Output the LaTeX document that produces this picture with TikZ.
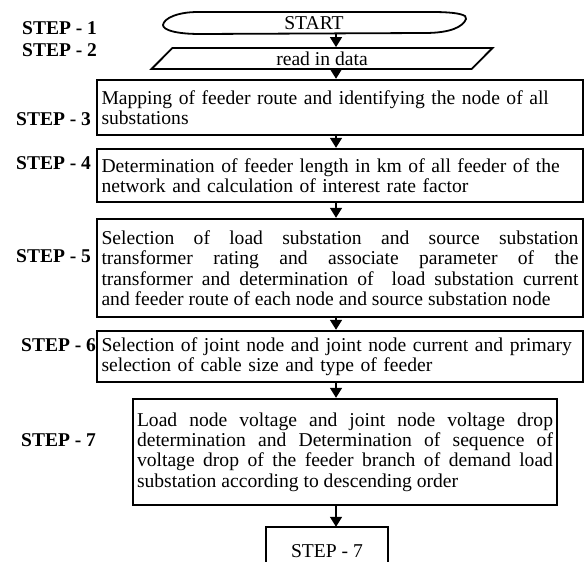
\documentclass[tikz,border=0pt]{standalone}
\usepackage{fontspec}
\setmainfont{Liberation Serif}
\usetikzlibrary{arrows.meta,shapes.geometric}
\hyphenpenalty=10000
\exhyphenpenalty=10000

\begin{document}
\begin{tikzpicture}[x=1pt,y=-1pt,
  every node/.style={font=\fontsize{19.6}{20.4}\selectfont},
  steplabel/.style={anchor=west,inner sep=0pt,font=\fontsize{19.5}{20}\selectfont\bfseries},
  procbox/.style={draw,line width=2.4pt,text width=477pt,inner xsep=4.5pt,inner ysep=0pt},
  narrowbox/.style={procbox,text width=416pt,inner xsep=4pt},
  flow/.style={line width=1.6pt,-{Triangle[width=12pt,length=10pt]}},
  termline/.style={line width=1.8pt},
]
% page frame
\fill[white] (0,0) rectangle (585,561);
\useasboundingbox (0,0) rectangle (585,561);
\clip (0,0) rectangle (585,561);

% common vertical axis of the flow arrows
\coordinate (ax) at (336,0);

% terminal
\node[minimum width=303pt,minimum height=22pt,inner sep=0pt] (start) at (314,23) {START};
\draw[termline] (198,12) -- (432,12)
  .. controls (458,12) and (468,15) .. (466,19)
  .. controls (463,27) and (450,33) .. (425,33)
  -- (200,34)
  .. controls (176,34) and (163,30) .. (163,25)
  .. controls (164,18) and (178,12) .. (198,12) -- cycle;

% input
\node[trapezium,trapezium left angle=37,trapezium right angle=143,
      trapezium stretches body,draw,line width=1.8pt,
      minimum width=341pt,minimum height=21pt,inner ysep=1pt] (read) at (322,58.5) {read in data};

% process steps
\node[procbox,align=left,minimum height=55pt] (s3) at (340,107.5)
  {Mapping of feeder route and identifying the node of all\\substations};
\node[procbox,align=left,minimum height=53pt] (s4) at (340,175.5)
  {Determination of feeder length in km of all feeder of the\\network and calculation of interest rate factor};
\node[procbox,align=justify,minimum height=98pt] (s5) at (340,268)
  {Selection of load substation and source substation\linebreak
   transformer rating and associate parameter of the\linebreak
   transformer and determination of\ \ load substation current\linebreak
   and feeder route of each node and source substation node};
\node[procbox,align=left,minimum height=51pt] (s6) at (340,356.5)
  {Selection of joint node and joint node current and primary\\selection of cable size and type of feeder};
\node[narrowbox,align=justify,minimum height=106pt] (s7) at (345,452)
  {Load node voltage and joint node voltage drop\linebreak
   determination and Determination of sequence of\linebreak
   voltage drop of the feeder branch of demand load\linebreak
   substation according to descending order};

% continuation box, open at the page edge
\node[minimum width=122pt,minimum height=48pt,inner sep=0pt] (s8) at (327,551) {STEP - 7};
\draw[line width=2pt] (s8.south west) -- (s8.north west) -- (s8.north east) -- (s8.south east);

% step labels
\node[steplabel] (lab1) at (22,28) {STEP - 1};
\node[steplabel] (lab2) at (22,50) {STEP - 2};
\node[steplabel] (lab3) at (16,119) {STEP - 3};
\node[steplabel] (lab4) at (16,163) {STEP - 4};
\node[steplabel] (lab5) at (16,256) {STEP - 5};
\node[steplabel] (lab6) at (21,345) {STEP - 6};
\node[steplabel] (lab7) at (21,440) {STEP - 7};

% flow arrows
\draw[flow] (start.south -| ax) -- (read.north -| ax);
\draw[flow] (read.south -| ax) -- (s3.north -| ax);
\draw[flow] (s3.south -| ax) -- (s4.north -| ax);
\draw[flow] (s4.south -| ax) -- (s5.north -| ax);
\draw[flow] (s5.south -| ax) -- (s6.north -| ax);
\draw[flow] (s6.south -| ax) -- (s7.north -| ax);
\draw[flow] (s7.south -| ax) -- (s8.north -| ax);
\end{tikzpicture}
\end{document}
